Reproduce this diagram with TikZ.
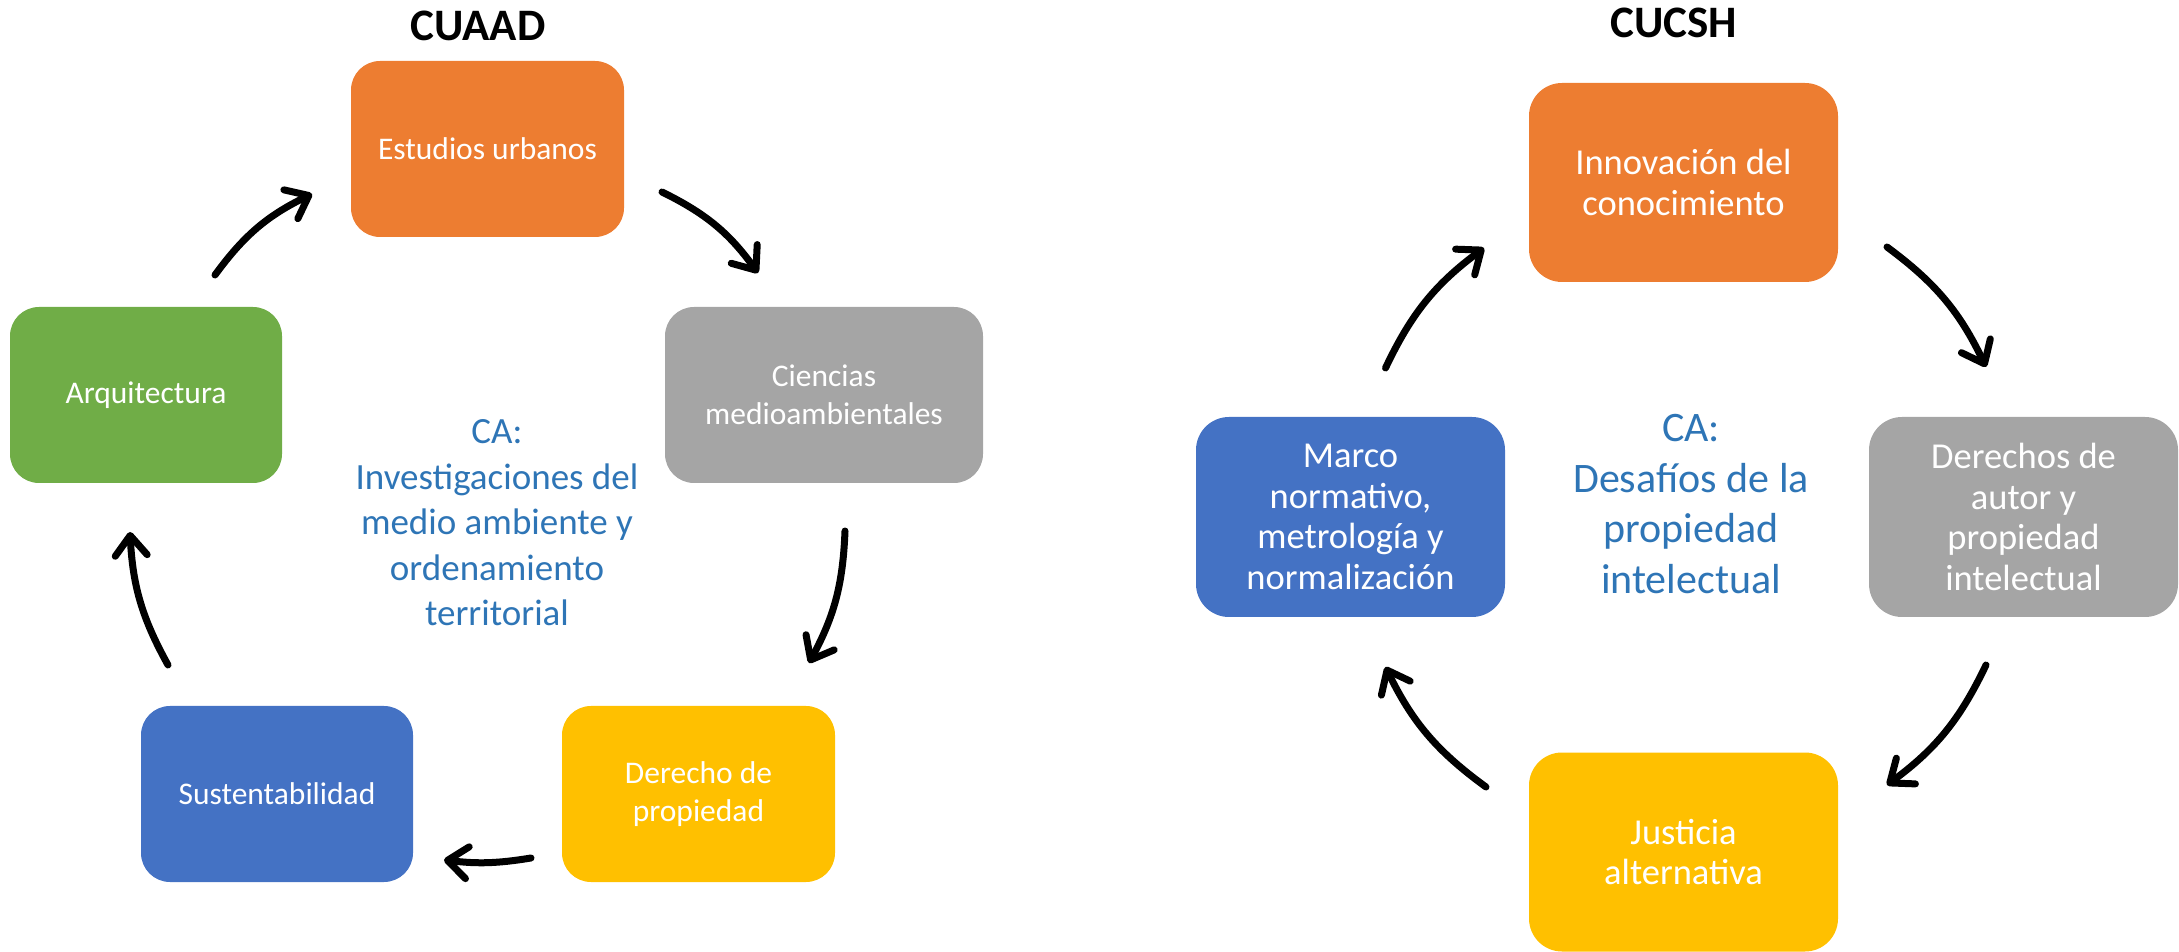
\documentclass[tikz,border=0pt]{standalone}
\usepackage{fontspec}
\setmainfont{Carlito}
\usetikzlibrary{arrows.meta}
\definecolor{cOrange}{HTML}{ED7D31}
\definecolor{cGray}{HTML}{A5A5A5}
\definecolor{cYellow}{HTML}{FFC000}
\definecolor{cBlue}{HTML}{4472C4}
\definecolor{cGreen}{HTML}{70AD47}
\definecolor{cText}{HTML}{2E75B6}
\tikzset{
  lbox/.style={rounded corners=29pt, minimum width=273pt, minimum height=176pt, inner sep=0pt,
    text=white, align=center, font=\fontsize{31.5}{38}\selectfont},
  rbox/.style={rounded corners=33pt, minimum width=309pt, minimum height=199pt, inner sep=0pt,
    text=white, align=center, font=\fontsize{36.5}{40.5}\selectfont},
  ttl/.style={font=\fontsize{45}{54}\selectfont\bfseries, text=black},
  cyc/.style={line width=7pt, line cap=round, -{Straight Barb[length=20pt,width=32pt,round]}},
}
\begin{document}
\begin{tikzpicture}[x=1pt,y=1pt]
\useasboundingbox (0,0) rectangle (2179,951);
% ---------- left: CUAAD ----------
\node[ttl] (t1) at (478,925) {CUAAD};
\node[lbox, fill=cOrange] (eu) at (487.5,802) {Estudios urbanos};
\node[lbox, fill=cGreen, minimum width=272pt] (arq) at (146,556) {Arquitectura};
\node[lbox, fill=cGray, minimum width=318pt] (cm) at (824,556) {Ciencias\\medioambientales};
\node[lbox, fill=cBlue, minimum width=272pt] (sus) at (277,157) {Sustentabilidad};
\node[lbox, fill=cYellow] (dp) at (698.5,157) {Derecho de\\propiedad};
\node[text=cText, align=center, font=\fontsize{37}{45.5}\selectfont] (ca1) at (497,428)
  {CA:\\Investigaciones del\\medio ambiente y\\ordenamiento\\territorial};
\coordinate (a1s) at (215,676); \coordinate (a1e) at (312,757);
\coordinate (a2s) at (662,759); \coordinate (a2e) at (758,678);
\coordinate (a3s) at (845,420); \coordinate (a3e) at (809,288);
\coordinate (a4s) at (531,93);  \coordinate (a4e) at (444,91);
\coordinate (a5s) at (168,286); \coordinate (a5e) at (130,419);
\draw[cyc] (a1s) to[bend left=14] (a1e);
\draw[cyc] (a2s) to[bend left=14] (a2e);
\draw[cyc] (a3s) to[bend left=13] (a3e);
\draw[cyc] (a4s) to[bend left=8] (a4e);
\draw[cyc] (a5s) to[bend left=13] (a5e);
% ---------- right: CUCSH ----------
\node[ttl] (t2) at (1674,928) {CUCSH};
\node[rbox, fill=cOrange] (inn) at (1683.5,768.5) {Innovación del\\conocimiento};
\node[rbox, fill=cBlue, minimum height=200pt] (mar) at (1350.5,434) {Marco\\normativo,\\metrología y\\normalización};
\node[rbox, fill=cGray, minimum height=200pt] (der) at (2023.5,434) {Derechos de\\autor y\\propiedad\\intelectual};
\node[rbox, fill=cYellow] (jus) at (1683.5,99) {Justicia\\alternativa};
\node[text=cText, align=center, font=\fontsize{42}{50.5}\selectfont] (ca2) at (1691,447)
  {CA:\\Desafíos de la\\propiedad\\intelectual};
\coordinate (b1s) at (1385.5,583); \coordinate (b1e) at (1484,703);
\coordinate (b2s) at (1887,704); \coordinate (b2e) at (1986,584);
\coordinate (b3s) at (1986,286); \coordinate (b3e) at (1887,166);
\coordinate (b4s) at (1486,164); \coordinate (b4e) at (1385.5,284);
\draw[cyc] (b1s) to[bend left=14] (b1e);
\draw[cyc] (b2s) to[bend left=14] (b2e);
\draw[cyc] (b3s) to[bend left=14] (b3e);
\draw[cyc] (b4s) to[bend left=14] (b4e);
\end{tikzpicture}
\end{document}
